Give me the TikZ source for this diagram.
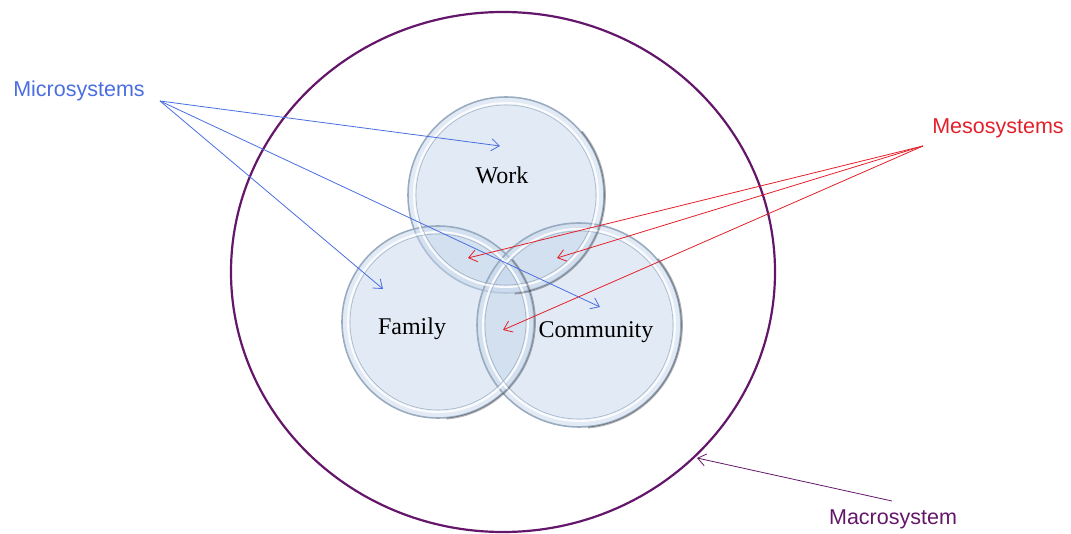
\documentclass[tikz,border=0pt]{standalone}
\usepackage{fontspec}
\setmainfont{Liberation Serif}
\newfontfamily\labelfont{Liberation Sans}
\usetikzlibrary{arrows.meta}
\definecolor{microblue}{HTML}{4A6EE0}
\definecolor{mesored}{HTML}{E3202A}
\definecolor{macropurple}{HTML}{64166A}
\definecolor{ballfill}{HTML}{C3D4EA}
\definecolor{ballrim}{HTML}{95A8BD}

\begin{document}
\begin{tikzpicture}[x=1pt,y=1pt,
  ball/.style={circle, inner sep=0pt, fill=ballfill, fill opacity=0.48,
               draw=ballrim, draw opacity=0.95, line width=1.6pt},
  ballring/.style={draw=white, line width=2pt, opacity=0.85},
  ballline/.style={draw=ballrim, line width=0.6pt, opacity=0.8},
  ballshade/.style={draw=black, line width=1.8pt, opacity=0.3},
  balltext/.style={font=\fontsize{24}{28}\selectfont, text=black},
  syslabel/.style={font=\labelfont\fontsize{21.5}{25}\selectfont},
  tip/.style={-{Straight Barb[length=8pt,width=12pt]}, line width=0.8pt},
  microarrow/.style={tip, draw=microblue},
  mesoarrow/.style={tip, draw=mesored},
  macroarrow/.style={tip, draw=macropurple}]

\useasboundingbox (0,0) rectangle (1071,533);

% Nodes
  \draw[macropurple, line width=2.2pt] (503,261) ellipse [x radius=272, y radius=260];

  \node[ball, minimum size=196pt]  (Work)      at (506,338) {};
  \node[ball, minimum size=192pt]  (Family)    at (438,211) {};
  \node[ball, minimum size=204pt]  (Community) at (579,208) {};

  \draw[ballring]  (Work.center)      circle (92);
  \draw[ballring]  (Family.center)    circle (90);
  \draw[ballring]  (Community.center) circle (96);
  \draw[ballline]  (Work.center)      circle (90);
  \draw[ballline]  (Family.center)    circle (88);
  \draw[ballline]  (Community.center) circle (94);
  \draw[ballshade] ([shift={(Work.center)}]-85:99)       arc[start angle=-85, end angle=40, radius=99];
  \draw[ballshade] ([shift={(Family.center)}]-85:97)     arc[start angle=-85, end angle=40, radius=97];
  \draw[ballshade] ([shift={(Community.center)}]-85:103) arc[start angle=-85, end angle=40, radius=103];

  \node[balltext]  (WorkText)      at (502,358) {Work};
  \node[balltext]  (FamilyText)    at (412,204) {Family};
  \node[balltext]  (CommunityText) at (596,201) {Community};

  \node[syslabel, text=microblue]   (Micro) at (79,442)  {Microsystems};
  \node[syslabel, text=mesored]     (Meso)  at (998,405) {Mesosystems};
  \node[syslabel, text=macropurple] (Macro) at (893,14)  {Macrosystem};

  \coordinate (MicroFrom)      at (160,432);
  \coordinate (MicroWork)      at (500,387);
  \coordinate (MicroFamily)    at (383,244);
  \coordinate (MicroCommunity) at (600,226);
  \coordinate (MesoFrom)       at (923,387);
  \coordinate (MesoWF)         at (468,275);
  \coordinate (MesoWC)         at (557,275);
  \coordinate (MesoFC)         at (503,203);
  \coordinate (MacroFrom)      at (892,32);
  \coordinate (MacroRim)       at (697,75);

% Edges
  \draw[microarrow] (MicroFrom) -- (MicroWork);
  \draw[microarrow] (MicroFrom) -- (MicroFamily);
  \draw[microarrow] (MicroFrom) -- (MicroCommunity);
  \draw[mesoarrow]  (MesoFrom)  -- (MesoWF);
  \draw[mesoarrow]  (MesoFrom)  -- (MesoWC);
  \draw[mesoarrow]  (MesoFrom)  -- (MesoFC);
  \draw[macroarrow] (MacroFrom) -- (MacroRim);

\end{tikzpicture}
\end{document}
